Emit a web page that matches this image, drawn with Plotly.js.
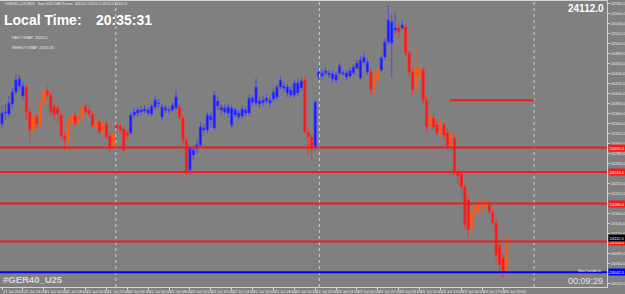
<!DOCTYPE html>
<html><head><meta charset="utf-8">
<script src="https://cdn.plot.ly/plotly-3.0.1.min.js"></script>
<style>html,body{margin:0;padding:0;background:#808080;overflow:hidden}#chart{width:625px;height:294px}</style>
</head><body><div id="chart"></div>
<script>
// ---- data (GER40 U25, bar index 0..145) ----
const open = [24339,24361,24359,24379,24403,24415,24395,24413,24363,24327,
24353,24339,24379,24405,24397,24375,24371,24357,24315,24305,
24341,24355,24343,24351,24373,24367,24359,24333,24343,24323,
24339,24315,24293,24337,24335,24329,24321,24321,24357,24361,
24363,24365,24361,24359,24373,24379,24353,24367,24365,24367,
24371,24373,24351,24307,24247,24277,24289,24297,24327,24327,
24347,24331,24375,24367,24363,24361,24337,24357,24353,24355,
24361,24361,24383,24381,24379,24381,24385,24381,24389,24393,
24413,24411,24401,24397,24397,24401,24411,24427,24323,24313,
24293,24433,24435,24441,24437,24429,24427,24441,24439,24433,
24435,24441,24451,24431,24463,24443,24443,24411,24427,24447,
24473,24503,24501,24527,24531,24531,24533,24481,24443,24411,
24437,24447,24387,24337,24351,24337,24319,24337,24321,24293,
24311,24243,24239,24213,24187,24131,24163,24167,24171,24175,
24177,24163,24141,24097,24071,24051];
const high = [24375,24379,24395,24411,24439,24437,24423,24419,24371,24363,
24359,24387,24417,24415,24403,24383,24377,24363,24323,24351,
24367,24361,24359,24379,24379,24375,24365,24351,24347,24347,
24345,24323,24327,24343,24341,24335,24327,24363,24371,24373,
24375,24377,24373,24381,24395,24389,24379,24377,24375,24383,
24407,24379,24359,24311,24295,24297,24307,24343,24339,24363,
24363,24405,24395,24379,24379,24379,24377,24373,24367,24377,
24375,24399,24397,24431,24393,24395,24399,24393,24411,24419,
24435,24423,24419,24415,24427,24431,24433,24435,24331,24319,
24387,24451,24449,24453,24447,24447,24443,24461,24447,24447,
24453,24459,24467,24475,24481,24471,24451,24437,24455,24477,
24511,24577,24559,24563,24539,24547,24539,24487,24451,24487,
24463,24455,24395,24359,24359,24345,24351,24343,24331,24327,
24319,24255,24247,24217,24195,24177,24187,24187,24191,24191,
24187,24171,24151,24107,24083,24117];
const low = [24331,24347,24351,24371,24397,24407,24387,24347,24303,24311,
24327,24331,24375,24387,24355,24347,24341,24307,24287,24285,
24335,24333,24337,24345,24357,24351,24331,24327,24319,24317,
24307,24281,24287,24327,24321,24283,24307,24317,24351,24355,
24357,24359,24355,24353,24367,24371,24347,24361,24359,24363,
24367,24347,24297,24233,24237,24267,24279,24291,24321,24321,
24331,24327,24367,24355,24357,24351,24331,24351,24347,24349,
24355,24355,24375,24375,24371,24375,24379,24373,24383,24387,
24407,24403,24393,24391,24391,24395,24403,24319,24277,24267,
24287,24427,24427,24435,24431,24421,24421,24435,24435,24427,
24431,24437,24447,24427,24457,24437,24397,24397,24419,24443,
24467,24497,24431,24519,24511,24527,24475,24431,24397,24403,
24427,24377,24323,24331,24327,24315,24313,24307,24287,24287,
24237,24217,24195,24127,24111,24115,24143,24157,24161,24167,
24157,24135,24063,24043,24031,24037];
const close = [24361,24363,24381,24403,24427,24429,24415,24363,24327,24353,
24339,24379,24403,24397,24363,24359,24359,24315,24307,24343,
24357,24341,24351,24373,24363,24359,24337,24343,24323,24341,
24313,24291,24321,24331,24327,24287,24317,24357,24363,24367,
24367,24369,24367,24375,24387,24381,24373,24371,24367,24377,
24393,24351,24307,24243,24291,24287,24297,24333,24331,24357,
24355,24397,24385,24373,24371,24373,24371,24367,24361,24369,
24367,24391,24391,24413,24385,24387,24391,24387,24403,24413,
24427,24415,24413,24407,24421,24421,24425,24323,24313,24293,
24383,24443,24441,24445,24441,24439,24437,24455,24441,24441,
24445,24453,24461,24467,24473,24463,24407,24431,24447,24471,
24503,24547,24543,24531,24523,24537,24481,24443,24407,24453,
24447,24387,24333,24353,24333,24321,24339,24317,24295,24317,
24243,24235,24213,24137,24127,24163,24177,24177,24181,24183,
24163,24141,24077,24057,24043,24112];
// bars drawn in the orange "counter-trend" colour
const orangeBars = [9,11,12,19,20,22,23,27,29,32,107,108,119,120,123,126,129,135,136,137,138,139,145];

const redLevels = [24292, 24243, 24180, 24104];
const blueLevels = [24042.5];
const zoneLevel = 24386.5, zoneFrom = 128.7, zoneTo = 152.9;
const separators = [32.7, 91.2, 152.9];
const currentPrice = 24112.0;

const tickBars = [0,6,12,18,24,30,36,42,48,54,60,66,72,78,84,90,96,102,108,114,120,126,132,138,144];
const tickLabels = ["21 Jul 2025","21 Jul 14:00","21 Jul 16:00","21 Jul 18:00","21 Jul 20:00","21 Jul 22:00",
"22 Jul 04:00","22 Jul 06:00","22 Jul 08:00","22 Jul 10:00","22 Jul 12:00","22 Jul 14:00","22 Jul 16:00",
"22 Jul 18:00","22 Jul 20:00","22 Jul 22:00","23 Jul 03:00","23 Jul 05:00","23 Jul 07:00","23 Jul 09:00",
"23 Jul 11:00","23 Jul 13:00","23 Jul 15:00","23 Jul 17:00","23 Jul 19:00"];

// ---- build traces ----
const FONT = "Liberation Sans, Arial, sans-serif";
const isOr = new Set(orangeBars);
function pick(flag){
  const t={x:[],open:[],high:[],low:[],close:[]};
  for(let i=0;i<open.length;i++){ if(isOr.has(i)===flag){t.x.push(i);t.open.push(open[i]);t.high.push(high[i]);t.low.push(low[i]);t.close.push(close[i]);} }
  return t;
}
const m = pick(false), o = pick(true);
const traces = [
  Object.assign({type:'candlestick', hoverinfo:'skip', showlegend:false,
    increasing:{line:{color:'rgba(60,60,255,0.75)',width:1}, fillcolor:'#1414ff'},
    decreasing:{line:{color:'rgba(255,40,40,0.75)',width:1}, fillcolor:'#ff1414'}}, m),
  Object.assign({type:'candlestick', hoverinfo:'skip', showlegend:false,
    increasing:{line:{color:'rgba(255,90,20,0.75)',width:1}, fillcolor:'#ff5a14'},
    decreasing:{line:{color:'rgba(255,90,20,0.75)',width:1}, fillcolor:'#ff5a14'}}, o)
];

const shapes = [];
separators.forEach(s=>shapes.push({type:'line',xref:'x',yref:'paper',x0:s,x1:s,y0:0,y1:1,line:{color:'#cfcfcf',width:1,dash:'dot'}}));
redLevels.forEach(v=>shapes.push({type:'line',xref:'paper',yref:'y',x0:0,x1:1,y0:v,y1:v,line:{color:'#ee1c1c',width:2}}));
blueLevels.forEach(v=>shapes.push({type:'line',xref:'paper',yref:'y',x0:0,x1:1,y0:v,y1:v,line:{color:'#0000ff',width:2}}));
shapes.push({type:'line',xref:'x',yref:'y',x0:zoneFrom,x1:zoneTo,y0:zoneLevel,y1:zoneLevel,line:{color:'#ee1c1c',width:2}});

const W=607, H=286;
function ann(px,py,text,size,color,anchor,bold){
  return {xref:'paper',yref:'paper',x:px/W,y:(287-py)/H,xanchor:anchor||'left',yanchor:'middle',
    text: bold?'<b>'+text+'</b>':text, showarrow:false, font:{family:FONT,size:size,color:color}};
}
const annotations = [
  ann(3,4,"#GER40_U25,M20:  Sept 2025 DAX Future  24113.5 24114.0 24111.0 24112.0",3.5,'#ececec'),
  ann(2,19.5,"Local Time:",14,'#ffffff','left',true),
  ann(94,19.5,"20:35:31",14,'#ffffff','left',true),
  ann(10,38,"DAILY VWAP: 24265.5",3.5,'#ececec'),
  ann(10,48,"WEEKLY VWAP: 24235.31",3.5,'#ececec'),
  ann(606,8,"24112.0",10,'#ffffff','right',true),
  ann(1,279,"#GER40_U25",9.5,'#d8d8d8','left',true),
  ann(604,270.5,"New Candle in:",3.5,'#ececec','right'),
  ann(605,281,"00:09:29",9,'#e4e4e4','right')
];
function priceTag(v,bg){
  return {xref:'paper',yref:'y',x:1,y:v,xanchor:'left',yanchor:'middle',xshift:1,
    text:v.toFixed(1),showarrow:false,bgcolor:bg,borderpad:0.5,font:{family:FONT,size:4,color:'#ffffff'}};
}
redLevels.forEach(v=>annotations.push(priceTag(v,'#ee1c1c')));
blueLevels.forEach(v=>annotations.push(priceTag(v,'#0000ff')));
annotations.push(priceTag(currentPrice,'#000000'));

const layout = {
  width:625, height:294, margin:{l:0,r:18,t:1,b:7},
  paper_bgcolor:'#808080', plot_bgcolor:'#808080', showlegend:false,
  boxgap:0.1, boxmode:'overlay',
  font:{family:FONT,color:'#e8e8e8'},
  xaxis:{range:[-0.575,173.85], rangeslider:{visible:false}, showgrid:false, zeroline:false,
    showline:true, mirror:true, linecolor:'#d4d4d4', linewidth:1,
    tickmode:'array', tickvals:tickBars, ticktext:tickLabels, tickangle:0,
    ticks:'outside', ticklen:2, tickcolor:'#d4d4d4', ticklabelposition:'outside right',
    tickfont:{family:FONT,size:4,color:'#e8e8e8'}},
  yaxis:{side:'right', range:[24013,24585], tick0:24000, dtick:20, tickformat:'.1f',
    showgrid:false, zeroline:false, showline:true, mirror:true, linecolor:'#d4d4d4', linewidth:1,
    ticks:'outside', ticklen:2, tickcolor:'#d4d4d4', tickfont:{family:FONT,size:4,color:'#e8e8e8'}},
  shapes:shapes, annotations:annotations
};
Plotly.newPlot('chart', traces, layout, {displayModeBar:false, staticPlot:true});
</script></body></html>
